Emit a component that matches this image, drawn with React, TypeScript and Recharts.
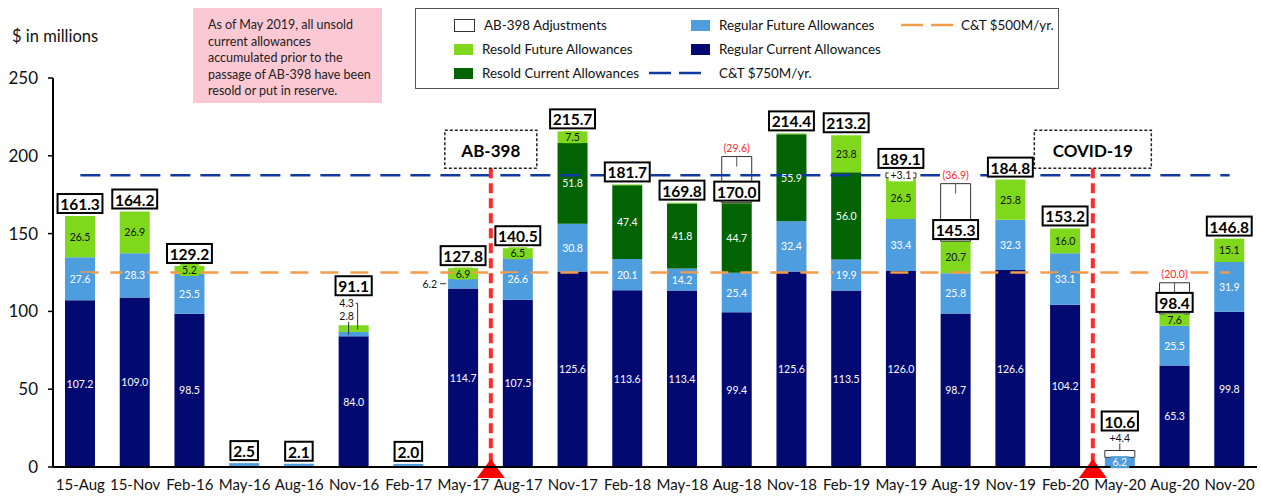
import React from "react"
import { BarChart, Bar, XAxis, YAxis, ReferenceLine, LabelList, Legend } from "recharts"

const FONT = "Lato, 'Open Sans', 'DejaVu Sans', sans-serif"

// auction quarters
const categories = [
  "15-Aug", "15-Nov", "Feb-16", "May-16", "Aug-16", "Nov-16", "Feb-17", "May-17", "Aug-17", "Nov-17", "Feb-18",
  "May-18", "Aug-18", "Nov-18", "Feb-19", "May-19", "Aug-19", "Nov-19", "Feb-20", "May-20", "Aug-20", "Nov-20",
]

// $ in millions
const regularCurrent = [107.2, 109.0, 98.5, 0, 0, 84.0, 0, 114.7, 107.5, 125.6, 113.6, 113.4, 99.4, 125.6, 113.5, 126.0, 98.7, 126.6, 104.2, 0, 65.3, 99.8]
const regularFuture = [27.6, 28.3, 25.5, 2.5, 2.1, 2.8, 2.0, 6.2, 26.6, 30.8, 20.1, 14.2, 25.4, 32.4, 19.9, 33.4, 25.8, 32.3, 33.1, 6.2, 25.5, 31.9]
const resoldCurrent = [0, 0, 0, 0, 0, 0, 0, 0, 0, 51.8, 47.4, 41.8, 44.7, 55.9, 56.0, 0, 0, 0, 0, 0, 0, 0]
const resoldFuture = [26.5, 26.9, 5.2, 0, 0, 4.3, 0, 6.9, 6.5, 7.5, 0.5, 0.5, 0.4, 0.5, 23.8, 26.5, 20.7, 25.8, 16.0, 0, 7.6, 15.1]
const adjustments = [0, 0, 0, 0, 0, 0, 0, 0, 0, 0, 0, 0, -29.6, 0, 0, 3.1, -36.9, 0, 0, 4.4, -20.0, 0]
const totals = [161.3, 164.2, 129.2, 2.5, 2.1, 91.1, 2.0, 127.8, 140.5, 215.7, 181.7, 169.8, 170.0, 214.4, 213.2, 189.1, 145.3, 184.8, 153.2, 10.6, 98.4, 146.8]

const yTicks = [0, 50, 100, 150, 200, 250]
const CT_500 = 125
const CT_750 = 187.5

const NAVY = "#020a72"
const LIGHT_BLUE = "#4e9ddf"
const DARK_GREEN = "#016301"
const LIME = "#7fd81c"
const BLUE_DASH = "#12399f"
const ORANGE_DASH = "#f29c4c"
const RED = "#ff2a2a"

const series: Record<string, number[]> = { rc: regularCurrent, rf: regularFuture, rsc: resoldCurrent, rsf: resoldFuture }

const data = categories.map((name, i) => ({
  name,
  rc: regularCurrent[i],
  rf: regularFuture[i],
  rsc: resoldCurrent[i],
  rsf: resoldFuture[i],
  adj: Math.abs(adjustments[i]),
  total: totals[i],
}))

const nameOf = (d: any) => d.name

const textW = (s: string, size: number) =>
  s.split("").reduce((w, ch) => w + (ch === "." ? 0.27 : ch === "(" || ch === ")" ? 0.33 : 0.56), 0) * size

/* eslint-disable @typescript-eslint/no-explicit-any */
function totalBox(cx: number, bottom: number, value: number) {
  const txt = value.toFixed(1)
  const w = textW(txt, 15.5) + 6
  return (
    <g>
      <rect x={cx - w / 2} y={bottom - 19} width={w} height={19} fill="#fff" stroke="#000" strokeWidth={2} />
      <text x={cx} y={bottom - 9} textAnchor="middle" dominantBaseline="central" fontSize={15.5} fontWeight={700} fontFamily={FONT} fill="#000">{txt}</text>
    </g>
  )
}

function smallText(x: number, y: number, txt: string, color: string, bg?: string, anchor = "middle") {
  const w = textW(txt, 10.5) + 4
  const left = anchor === "middle" ? x - w / 2 : anchor === "end" ? x - w + 2 : x - 2
  return (
    <g>
      {bg && <rect x={left} y={y - 6} width={w} height={12} fill={bg} />}
      <text x={x} y={y} textAnchor={anchor as any} dominantBaseline="central" fontSize={10.5} fontFamily={FONT} fill={color}>{txt}</text>
    </g>
  )
}

function segLabel(key: string, color: string, bg?: string) {
  return (props: any) => {
    const vb = props.viewBox || props
    const { x, y, width, height } = vb
    const name = String(props.value)
    const i = categories.indexOf(name)
    if (i < 0) return null
    const value = series[key][i]
    const cx = x + width / 2
    // total label on the top of stacks that carry no adjustment
    let total: React.ReactNode = null
    if (key === "rf" && adjustments[i] === 0) {
      const ppu = height / value
      const top = y - (resoldCurrent[i] + resoldFuture[i]) * ppu
      total = totalBox(cx, top - (name === "Nov-16" ? 30 : 3), totals[i])
    }
    if (!value || value < 2.6) return total
    const txt = value.toFixed(1)
    // small slices with leader lines
    if (name === "Nov-16" && key === "rsf") {
      return (
        <g>
          {smallText(cx - 7, y - 22, txt, "#111")}
          <line x1={cx + 2} x2={cx + 4} y1={y - 22} y2={y - 22} stroke="#333" strokeWidth={1} />
          <line x1={cx + 4} x2={cx + 4} y1={y - 22} y2={y + 4} stroke="#333" strokeWidth={1} />
        </g>
      )
    }
    if (name === "Nov-16" && key === "rf") {
      return (
        <g>
          {smallText(cx - 7, y - 16, txt, "#111")}
          <line x1={cx - 5} x2={cx - 5} y1={y - 10} y2={y + 3} stroke="#333" strokeWidth={1} />
          {total}
        </g>
      )
    }
    if (name === "May-17" && key === "rf") {
      const cy = y + height / 2
      return (
        <g>
          {smallText(x - 11, cy, txt, "#111", undefined, "end")}
          <line x1={x - 8} x2={x - 2} y1={cy} y2={cy} stroke="#333" strokeWidth={1} />
          {total}
        </g>
      )
    }
    const cy = Math.max(y + height / 2, y + 4)
    return (
      <g>
        {smallText(cx, cy, txt, color, bg)}
        {total}
      </g>
    )
  }
}

const adjLabel = (props: any) => {
  const vb = props.viewBox || props
  const { x, y, width, height } = vb
  const i = categories.indexOf(String(props.value))
  if (i < 0) return null
  const adj = adjustments[i]
  const cx = x + width / 2
  const top = Math.min(y, y + height)
  const bottom = Math.max(y, y + height)
  const h = bottom - top
  if (adj < 0) {
    return (
      <g>
        <line x1={cx} x2={cx} y1={top} y2={top + 10} stroke="#555" strokeWidth={1} />
        {smallText(cx, top - 9, `(${Math.abs(adj).toFixed(1)})`, RED, "#fff")}
        {totalBox(cx, bottom - 2, totals[i])}
      </g>
    )
  }
  if (categories[i] === "May-20") {
    return (
      <g>
        <line x1={cx} x2={cx} y1={top} y2={top - 7} stroke="#333" strokeWidth={1} />
        {smallText(cx, top - 13, `+${adj.toFixed(1)}`, "#111")}
        {totalBox(cx, top - 20, totals[i])}
      </g>
    )
  }
  return (
    <g>
      {smallText(cx, top + h / 2, `+${adj.toFixed(1)}`, "#111", "#fff")}
      {totalBox(cx, top - 5, totals[i])}
    </g>
  )
}

function eventShape(title: string, boxW: number) {
  return (p: any) => {
    const { x1, y1, y2 } = p
    const yTop = Math.min(y1, y2)
    const yBot = Math.max(y1, y2)
    return (
      <g>
        <line x1={x1} x2={x1} y1={yTop} y2={yBot} stroke={RED} strokeWidth={4} strokeDasharray="10 5" />
        <polygon points={`${x1 - 14},${yBot + 11} ${x1 + 14},${yBot + 11} ${x1},${yBot - 8}`} fill="#ff0000" />
        <rect x={x1 - boxW / 2} y={yTop - 38} width={boxW} height={38} fill="#fff" stroke="#222" strokeWidth={1.5} strokeDasharray="3 2" />
        <text x={x1} y={yTop - 18} textAnchor="middle" dominantBaseline="central" fontSize={17} fontWeight={700} fontFamily={FONT} fill="#000">
          {title}
        </text>
      </g>
    )
  }
}

const legendItems = [
  { label: "AB-398 Adjustments", kind: "box", color: "#fff", left: 38, top: 15, gap: 9 },
  { label: "Resold Future Allowances", kind: "box", color: LIME, left: 38, top: 39, gap: 9 },
  { label: "Resold Current Allowances", kind: "box", color: DARK_GREEN, left: 38, top: 63, gap: 9 },
  { label: "Regular Future Allowances", kind: "box", color: LIGHT_BLUE, left: 275, top: 15, gap: 9 },
  { label: "Regular Current Allowances", kind: "box", color: NAVY, left: 275, top: 39, gap: 9 },
  { label: "C&T $750M/yr.", kind: "dash", color: BLUE_DASH, left: 233, top: 63, gap: 18 },
  { label: "C&T $500M/yr.", kind: "dash", color: ORANGE_DASH, left: 485, top: 15, gap: 8 },
]

function LegendBox() {
  return (
    <div style={{ position: "relative", width: 642, height: 79, border: "1px solid #555", background: "#fff", fontFamily: FONT, fontSize: 13.4, color: "#111" }}>
      {legendItems.map((it) => (
        <div key={it.label} style={{ position: "absolute", left: it.left, top: it.top - 7, display: "flex", alignItems: "center", height: 16, whiteSpace: "nowrap" }}>
          {it.kind === "box" ? (
            <span style={{ display: "inline-block", width: 19, height: 11, background: it.color, border: it.color === "#fff" ? "1px solid #333" : "none", marginRight: it.gap }} />
          ) : (
            <svg width={52} height={6} style={{ marginRight: it.gap }}>
              <line x1={0} x2={52} y1={3} y2={3} stroke={it.color} strokeWidth={2.5} strokeDasharray="22 8" />
            </svg>
          )}
          <span>{it.label}</span>
        </div>
      ))}
    </div>
  )
}

export default function App() {
  return (
    <div style={{ position: "absolute", left: 0, top: 0, width: 1261, height: 496, background: "#fff", fontFamily: FONT }}>
      <div style={{ position: "absolute", left: 12, top: 26, fontSize: 16.5, color: "#111" }}>$ in millions</div>
      <div
        style={{
          position: "absolute", left: 193, top: 8, width: 189, height: 95, background: "#fbc8d3",
          boxSizing: "border-box", padding: "9px 0 0 15px", fontSize: 12.5, lineHeight: "16.5px", color: "#222",
        }}
      >
        As of May 2019, all unsold<br />current allowances<br />accumulated prior to the<br />passage of AB-398 have been<br />resold or put in reserve.
      </div>
      <BarChart width={1261} height={496} data={data} margin={{ top: 78, right: 4, left: 8, bottom: 0 }} barSize={30}>
        <XAxis
          dataKey="name"
          height={29}
          interval={0}
          tickLine={false}
          tickSize={0}
          tickMargin={12}
          axisLine={{ stroke: "#000", strokeWidth: 2 }}
          tick={{ fontSize: 15, fill: "#111", fontFamily: FONT }}
        />
        <YAxis
          width={45}
          domain={[0, 250]}
          ticks={yTicks}
          tickSize={5}
          tickMargin={10}
          axisLine={{ stroke: "#000", strokeWidth: 2 }}
          tickLine={{ stroke: "#000", strokeWidth: 1.5 }}
          tick={{ fontSize: 17, fill: "#111", fontFamily: FONT }}
        />
        <Legend verticalAlign="middle" layout="horizontal" wrapperStyle={{ position: "absolute", left: 415, top: 8, width: 644, height: 81 }} content={() => <LegendBox />} />
        <Bar dataKey="rc" stackId="a" fill={NAVY} isAnimationActive={false}>
          <LabelList dataKey={nameOf} content={segLabel("rc", "#fff")} />
        </Bar>
        <Bar dataKey="rf" stackId="a" fill={LIGHT_BLUE} isAnimationActive={false}>
          <LabelList dataKey={nameOf} content={segLabel("rf", "#fff", LIGHT_BLUE)} />
        </Bar>
        <Bar dataKey="rsc" stackId="a" fill={DARK_GREEN} isAnimationActive={false}>
          <LabelList dataKey={nameOf} content={segLabel("rsc", "#fff")} />
        </Bar>
        <Bar dataKey="rsf" stackId="a" fill={LIME} isAnimationActive={false}>
          <LabelList dataKey={nameOf} content={segLabel("rsf", "#111", LIME)} />
        </Bar>
        <ReferenceLine segment={[{ x: categories[0], y: CT_500 }, { x: categories[categories.length - 1], y: CT_500 }]} stroke={ORANGE_DASH} strokeWidth={2.5} strokeDasharray="18 12" />
        <ReferenceLine segment={[{ x: categories[0], y: CT_750 }, { x: categories[categories.length - 1], y: CT_750 }]} stroke={BLUE_DASH} strokeWidth={2.5} strokeDasharray="20 10" />
        <Bar dataKey="adj" stackId="a" fill="#fff" stroke="#333" strokeWidth={1} isAnimationActive={false}>
          <LabelList dataKey={nameOf} content={adjLabel} />
        </Bar>
        <ReferenceLine segment={[{ x: "Aug-17", y: 0 }, { x: "Aug-17", y: 192 }]} position="start" shape={eventShape("AB-398", 92)} />
        <ReferenceLine segment={[{ x: "May-20", y: 0 }, { x: "May-20", y: 192 }]} position="start" shape={eventShape("COVID-19", 117)} />
      </BarChart>
    </div>
  )
}
